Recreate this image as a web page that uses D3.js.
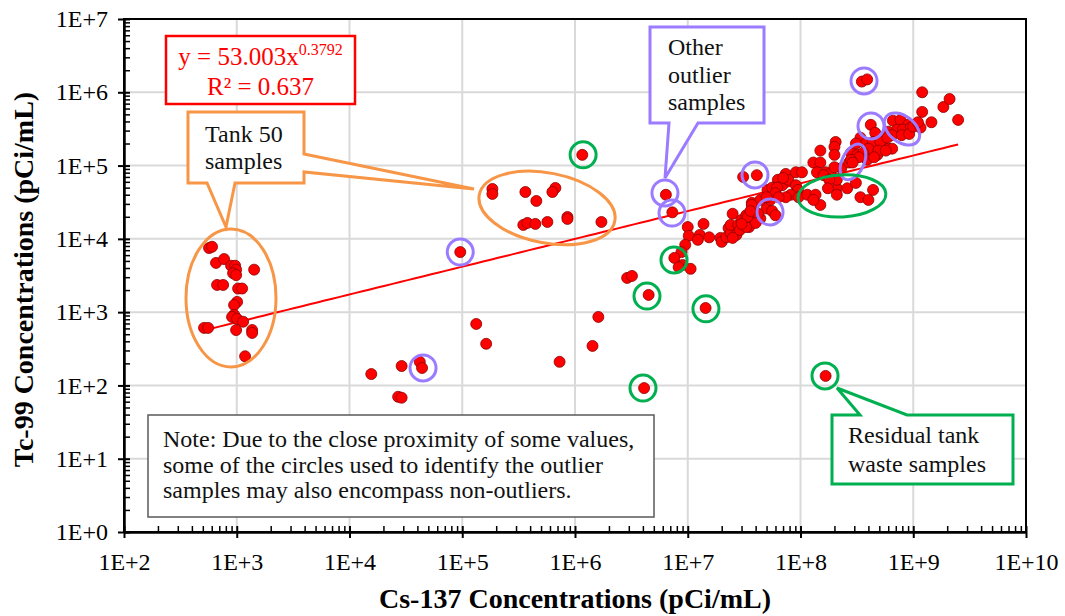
<!DOCTYPE html>
<html><head><meta charset="utf-8">
<script src="https://cdn.jsdelivr.net/npm/d3@7"></script>
<style>body{margin:0;background:#fff}svg{display:block}svg text{font-family:"Liberation Serif","Times New Roman",serif !important}</style>
</head><body><svg id="c" width="1065" height="616"></svg>
<script>
// ---- tick labels ----
const xTicks = [1e2,1e3,1e4,1e5,1e6,1e7,1e8,1e9,1e10];
const xTickLabels = ["1E+2","1E+3","1E+4","1E+5","1E+6","1E+7","1E+8","1E+9","1E+10"];
const yTicks = [1e0,1e1,1e2,1e3,1e4,1e5,1e6,1e7];
const yTickLabels = ["1E+0","1E+1","1E+2","1E+3","1E+4","1E+5","1E+6","1E+7"];
const xTitle = "Cs-137 Concentrations (pCi/mL)";
const yTitle = "Tc-99 Concentrations (pCi/mL)";

// ---- data: [Cs-137, Tc-99] pCi/mL ----
const tank50Left = [[568,7500],[604,7800],[655,4700],[772,5300],[891,4300],[967,4300],[987,3800],[928,3400],[987,3200],[1426,3800],[669,2350],[757,2350],[1028,2100],[1116,2100],[1007,1380],[947,1250],[947,920],[909,860],[1007,810],[1139,740],[987,570],[1369,570],[1369,520],[513,610],[557,610],[1186,250]];
const tank50Right = [[1.85e5,4.8e4],[1.85e5,4.1e4],[3.63e5,4.36e4],[4.54e5,3.29e4],[6.7e5,4.95e4],[6.3e5,4.36e4],[3.48e5,1.55e4],[3.78e5,1.65e4],[4.45e5,1.6e4],[5.69e5,1.7e4],[8.57e5,1.99e4],[8.57e5,1.87e4],[1.715e6,1.7e4]];
const scattered = [[9.6e4,6600],[1.33e5,690],[1.63e5,370],[1.56e4,143],[2.9e4,184],[4.2e4,210],[4.4e4,173],[2.7e4,70],[2.9e4,68],[7.3e5,210],[1.43e6,346],[1.61e6,860],[2.9e6,2930],[3.2e6,3120],[4.5e6,1720],[1.44e7,1140],[4.1e6,92],[1.16e6,1.4e5],[1.67e8,135]];
const mainCluster = [
 [6.4e6,4.0e4],[7.3e6,2.3e4],[1.0e7,1.45e4],[1.38e7,1.6e4],[1.02e7,1.1e4],[9.5e6,8300],[8.8e6,6600],[7.6e6,5500],[9.0e6,4400],[1.06e7,3900],[8.3e6,4100],
 [1.28e7,1.13e4],[1.23e7,9700],[1.55e7,1.05e4],[1.95e7,1.03e4],[2.0e7,9100],[2.2e7,1.05e4],[2.3e7,1.4e4],[2.4e7,1.2e4],[2.4e7,1.55e4],[2.5e7,2.2e4],
 [2.8e7,1.55e4],[2.7e7,1.13e4],[3.0e7,1.81e4],[3.3e7,2.1e4],[3.6e7,1.81e4],[3.5e7,1.45e4],[3.7e7,3.1e4],[3.8e7,2.4e4],[2.9e7,1.32e4],[2.5e7,1.03e4],
 [3.1e7,7.0e4],[4.1e7,7.4e4],[5.0e7,2.6e4],[5.6e7,2.4e4],[6.0e7,2.1e4],[5.1e7,4.65e4],[6.0e7,5.1e4],[6.3e7,6.4e4],[4.4e7,1.9e4],[4.2e7,2.2e4],
 [4.0e7,1.65e4],[3.3e7,1.45e4],[3.4e7,2.0e4],[4.4e7,3.4e4],[5.4e7,3.4e4],[3.7e7,2.9e4],[3.0e7,1.6e4],[3.6e7,2.4e4],
 [6.9e7,5.4e4],[5.6e7,5.0e4],[6.2e7,5.0e4],[7.4e7,7.7e4],[7.8e7,6.4e4],[9.1e7,8.1e4],[1.03e8,8.1e4],[9.1e7,5.4e4],[9.5e7,4.65e4],[8.2e7,4.0e4],
 [7.4e7,3.7e4],[6.0e7,4.2e4],[6.4e7,3.7e4],[7.0e7,6.8e4],[5.0e7,3.7e4],[9.6e7,3.7e4],
 [2.05e8,2.1e5],[2.0e8,1.8e5],[1.5e8,1.6e5],[2.0e8,1.4e5],[1.3e8,1.1e5],[1.5e8,1.1e5],[1.67e8,8.1e4],[1.85e8,7.9e4],[1.4e8,8.1e4],[1.6e8,7.4e4],
 [2.3e8,9.2e4],[2.0e8,9.5e4],[2.8e8,1.5e5],[2.9e8,1.2e5],[3.2e8,1.4e5],[2.7e8,1.1e5],[3.4e8,2.4e5],[3.8e8,2.0e5],[4.4e8,1.8e5],[4.8e8,2.4e5],
 [5.5e8,2.3e5],[6.0e8,1.7e5],[4.8e8,1.4e5],[4.2e8,1.4e5],[6.0e8,2.9e5],[4.2e8,3.6e5],[4.6e8,2.8e5],
 [1.15e8,4.0e4],[1.36e8,4.0e4],[1.5e8,2.9e4],[1.3e8,3.4e4],[2.1e8,4.9e4],[2.1e8,4.0e4],[2.6e8,4.9e4],[3.1e8,5.8e4],[3.4e8,3.7e4],[4.0e8,3.4e4],
 [4.4e8,4.65e4],[2.1e8,6.4e4],[1.8e8,6.4e4],[1.75e8,4.9e4],
 [6.6e8,4.1e5],[7.7e8,4.2e5],[9.0e8,3.6e5],[7.2e8,3.1e5],[8.1e8,3.1e5],[9.5e8,3.3e5],[6.5e8,2.6e5],[7.9e8,2.6e5],[9.2e8,2.7e5],[1.0e9,3.4e5],
 [1.16e9,3.3e5],[1.1e9,3.9e5],[4.4e8,2.1e5],[5.1e8,2.1e5],[4.0e8,1.7e5],[4.9e8,1.6e5],[3.6e8,1.5e5],[3.9e8,1.2e5],[4.5e8,1.3e5],
 [1.2e9,5.4e5],[1.2e9,1.0e6],[1.45e9,3.9e5],[1.85e9,6.3e5],[2.1e9,8.1e5],[2.5e9,4.2e5],[3.5e8,1.4e6],[3.9e8,1.5e6],
 [3.1e8,2.0e5],[3.3e8,1.3e5],[2.8e8,1.2e5],[2.9e8,1.1e5],[5.9e8,2.4e5],[6.5e8,1.7e5],[5.7e8,1.6e5]
];
const fitA = 53.003, fitB = 0.3792, fitR2 = 0.637;

// ---- outlier highlight marks (data-space centres) ----
const purpleCircles = [[9.6e4,6.6e3],[4.49e4,173],[6.28e6,4.23e4],[7.25e6,2.25e4],[3.95e7,7.45e4],[5.37e7,2.33e4],[3.66e8,1.43e6],[4.22e8,3.47e5]];
const purpleEllipses = [[2.92e8,1.12e5,11,19,25],[7.94e8,3.16e5,20,13,38]];
const greenCircles = [[1.18e6,1.4e5],[7.55e6,5.15e3],[4.35e6,1.66e3],[1.45e7,1.11e3],[4.01e6,92],[1.65e8,135]];
const greenEllipses = [[2.33e8,3.85e4,44,21,-3]];
const orangeEllipses = [[889,1563,45,69,0],[5.65e5,2.64e4,69,35,11]];

const allPoints = tank50Left.concat(tank50Right, scattered, mainCluster);

const svg = d3.select("#c");
const x = d3.scaleLog().domain([1e2,1e10]).range([124,1026]);
const y = d3.scaleLog().domain([1,1e7]).range([532,19]);
const [X0,X1] = x.range(), [Y0,Y1] = y.range();

const PURPLE = "#9b7bff", GREEN = "#00b050", ORANGE = "#f79646";

// gridlines
svg.append("g").selectAll("line.gx").data(xTicks.slice(1,-1)).join("line")
  .attr("x1",d=>x(d)).attr("x2",d=>x(d)).attr("y1",Y1).attr("y2",Y0)
  .attr("stroke","#d9d9d9").attr("stroke-width",2);
svg.append("g").selectAll("line.gy").data(yTicks.slice(1,-1)).join("line")
  .attr("y1",d=>y(d)).attr("y2",d=>y(d)).attr("x1",X0).attr("x2",X1)
  .attr("stroke","#d9d9d9").attr("stroke-width",2);

// plot border (top/right)
svg.append("rect").attr("x",X0).attr("y",Y1).attr("width",X1-X0).attr("height",Y0-Y1)
  .attr("fill","none").attr("stroke","#000").attr("stroke-width",2);

// minor ticks
function minors(dom){const out=[];for(let e=Math.log10(dom[0]);e<Math.log10(dom[1]);e++){for(let k=2;k<=9;k++)out.push(k*Math.pow(10,e));}return out;}
const gxm = svg.append("g").attr("transform",`translate(0,${Y0})`)
  .call(d3.axisBottom(x).tickValues(minors(x.domain())).tickFormat("").tickSize(-6).tickSizeOuter(0));
gxm.select(".domain").remove();
gxm.selectAll("line").attr("stroke","#000").attr("stroke-width",1.5);
const gym = svg.append("g").attr("transform",`translate(${X0},0)`)
  .call(d3.axisLeft(y).tickValues(minors(y.domain())).tickFormat("").tickSize(-6).tickSizeOuter(0));
gym.select(".domain").remove();
gym.selectAll("line").attr("stroke","#000").attr("stroke-width",1.5);

// major axes
const gx = svg.append("g").attr("transform",`translate(0,${Y0})`)
  .call(d3.axisBottom(x).tickValues(xTicks).tickFormat((d,i)=>xTickLabels[i]).tickSize(6).tickPadding(15).tickSizeOuter(0));
gx.selectAll(".tick line").attr("y1",-6).attr("y2",6).attr("stroke","#000").attr("stroke-width",2);
gx.select(".domain").attr("stroke","#000").attr("stroke-width",2.5);
gx.selectAll("text").attr("font-size",24).attr("fill","#000");
const gy = svg.append("g").attr("transform",`translate(${X0},0)`)
  .call(d3.axisLeft(y).tickValues(yTicks).tickFormat((d,i)=>yTickLabels[i]).tickSize(6).tickPadding(10).tickSizeOuter(0));
gy.selectAll(".tick line").attr("x1",-6).attr("x2",6).attr("stroke","#000").attr("stroke-width",2);
gy.select(".domain").attr("stroke","#000").attr("stroke-width",2.5);
gy.selectAll("text").attr("font-size",24).attr("fill","#000");

// axis titles
svg.append("text").attr("x",(X0+X1)/2).attr("y",608).attr("text-anchor","middle")
  .attr("font-size",28).attr("font-weight","bold").text(xTitle);
svg.append("text").attr("transform",`translate(33,${(Y0+Y1)/2+4}) rotate(-90)`).attr("text-anchor","middle")
  .attr("font-size",28).attr("font-weight","bold").text(yTitle);

// trendline
const xs = allPoints.map(d=>d[0]);
const xmin = d3.min(xs), xmax = d3.max(xs);
const fitPts = d3.range(0,101).map(i=>{const lx=Math.log10(xmin)+(Math.log10(xmax)-Math.log10(xmin))*i/100;const xv=Math.pow(10,lx);return [xv,fitA*Math.pow(xv,fitB)];});
svg.append("path").datum(fitPts).attr("fill","none").attr("stroke","#ff0000").attr("stroke-width",2)
  .attr("d",d3.line().x(d=>x(d[0])).y(d=>y(d[1])));

// points
svg.append("g").selectAll("circle").data(allPoints).join("circle")
  .attr("cx",d=>x(d[0])).attr("cy",d=>y(d[1])).attr("r",5.5)
  .attr("fill","#ff0000").attr("stroke","#8b0000").attr("stroke-width",0.8);

// highlight circles / ellipses
const ann = svg.append("g").attr("fill","none").attr("stroke-width",3);
ann.selectAll("circle.p").data(purpleCircles).join("circle").attr("cx",d=>x(d[0])).attr("cy",d=>y(d[1])).attr("r",13).attr("stroke",PURPLE);
ann.selectAll("ellipse.p").data(purpleEllipses).join("ellipse").attr("rx",d=>d[2]).attr("ry",d=>d[3])
  .attr("transform",d=>`translate(${x(d[0])},${y(d[1])}) rotate(${d[4]})`).attr("stroke",PURPLE);
ann.selectAll("circle.g").data(greenCircles).join("circle").attr("cx",d=>x(d[0])).attr("cy",d=>y(d[1])).attr("r",13).attr("stroke",GREEN);
ann.selectAll("ellipse.g").data(greenEllipses).join("ellipse").attr("rx",d=>d[2]).attr("ry",d=>d[3])
  .attr("transform",d=>`translate(${x(d[0])},${y(d[1])}) rotate(${d[4]})`).attr("stroke",GREEN);
ann.selectAll("ellipse.o").data(orangeEllipses).join("ellipse").attr("rx",d=>d[2]).attr("ry",d=>d[3])
  .attr("transform",d=>`translate(${x(d[0])},${y(d[1])}) rotate(${d[4]})`).attr("stroke",ORANGE);

// callouts
function callout(path,color,lines,tx,ty,dy){
  svg.append("path").attr("d",path).attr("fill","#fff").attr("stroke",color).attr("stroke-width",3).attr("stroke-linejoin","miter");
  const t=svg.append("text").attr("font-size",24).attr("fill","#111");
  lines.forEach((l,i)=>t.append("tspan").attr("x",tx).attr("y",ty+i*dy).text(l));
}
callout("M188,112H304V154L474,189L304,172V183H235L226,227L207,183H188Z",ORANGE,["Tank 50","samples"],205,142,27);
callout("M650,27H764V123H698L665,178L669,123H650Z",PURPLE,["Other","outlier","samples"],668,55,27.5);
callout("M832,415H860L837,388L907,415H1013V484H832Z",GREEN,["Residual tank","waste samples"],848,443,29);

// equation box
svg.append("rect").attr("x",166).attr("y",36).attr("width",189).attr("height",68).attr("fill","#fff").attr("stroke","#ff0000").attr("stroke-width",2.5);
const eq = svg.append("text").attr("x",260.5).attr("y",65).attr("text-anchor","middle").attr("font-size",25).attr("fill","#ff0000");
eq.append("tspan").text(`y = ${fitA.toFixed(3)}x`);
eq.append("tspan").attr("dy",-10).attr("font-size",16).text(fitB.toFixed(4));
svg.append("text").attr("x",260.5).attr("y",95).attr("text-anchor","middle").attr("font-size",25).attr("fill","#ff0000").text(`R² = ${fitR2}`);

// note box
svg.append("rect").attr("x",148).attr("y",415).attr("width",506).attr("height",102).attr("fill","#fff").attr("stroke","#595959").attr("stroke-width",1.5);
const note = svg.append("text").attr("font-size",24).attr("fill","#111");
["Note: Due to the close proximity of some values,","some of the circles used to identify the outlier","samples may also encompass non-outliers."]
  .forEach((l,i)=>note.append("tspan").attr("x",163).attr("y",447+i*25.5).text(l));
</script></body></html>
